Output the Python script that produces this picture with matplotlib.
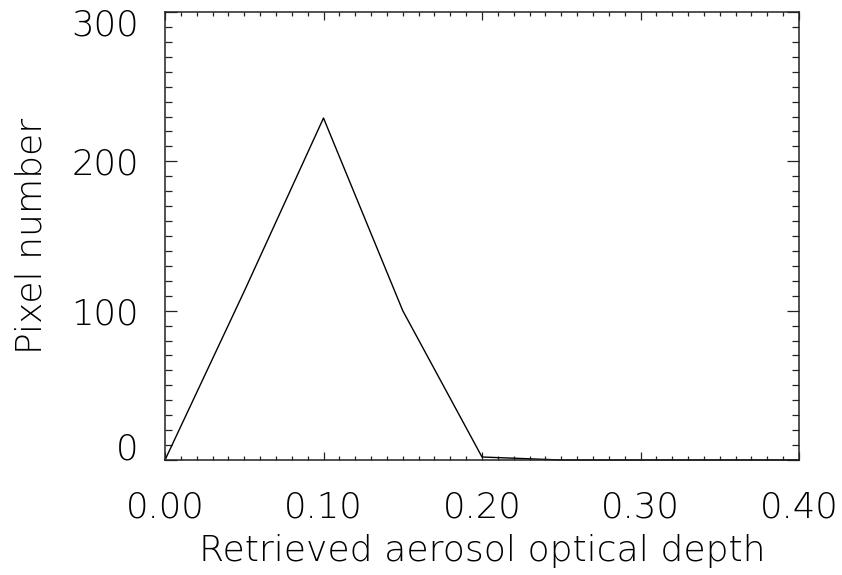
import matplotlib
matplotlib.use('Agg')
import matplotlib.pyplot as plt
from matplotlib.transforms import ScaledTranslation

# histogram of retrieved AOD
aod = [0.00, 0.05, 0.10, 0.15, 0.20, 0.25, 0.30, 0.35, 0.40]
pixels = [0, 113, 229, 100, 2, 0, 0, 0, 0]

xticks = [0.0, 0.1, 0.2, 0.3, 0.4]
yticks = [0, 100, 200, 300]

plt.rcParams['font.family'] = 'DejaVu Sans'
thin = 200   # DejaVu Sans ExtraLight, close to the IDL vector font

fig = plt.figure(figsize=(8.42, 5.75), dpi=100)
ax = fig.add_axes([165/842, 1 - 460/575, 634/842, 448/575])

ax.plot(aod, pixels, color='k', linewidth=1.0, clip_on=False)

ax.set_xticks(xticks, ['%.2f' % v for v in xticks])
ax.set_yticks(yticks, ['%d' % v for v in yticks])
ax.set_xticks([i / 100 for i in range(41)], minor=True)
ax.set_yticks(range(0, 301, 10), minor=True)
ax.set_xlim(0, 0.40)
ax.set_ylim(0, 300)

for s in ax.spines.values():
    s.set_linewidth(1.1)
    s.set_color('#222222')

ax.tick_params(which='both', direction='in', top=True, right=True,
               width=0.9, color='#222222', labelsize=25.5)
ax.tick_params(axis='x', which='major', length=6, pad=22)
ax.tick_params(axis='x', which='minor', length=3)
ax.tick_params(axis='y', which='major', length=8.6, pad=19)
ax.tick_params(axis='y', which='minor', length=4.8)

for lab in ax.get_xticklabels() + ax.get_yticklabels():
    lab.set_fontweight(thin)

# IDL pulls the end labels inside the axis range
ylabs = ax.get_yticklabels()
ylabs[0].set_verticalalignment('baseline')
ylabs[-1].set_verticalalignment('top')
ylabs[-1].set_transform(ylabs[-1].get_transform()
                        + ScaledTranslation(0, 4 / 100, fig.dpi_scale_trans))

ax.set_xlabel('Retrieved aerosol optical depth', fontsize=26, fontweight=thin)
ax.set_ylabel('Pixel number', fontsize=26, fontweight=thin, va='center')
ax.xaxis.set_label_coords(0.5, (460 - 551) / 448)
ax.xaxis.label.set_verticalalignment('center')
ax.yaxis.set_label_coords((32 - 165) / 634, 0.5)

fig.savefig('out.png', dpi=100)
